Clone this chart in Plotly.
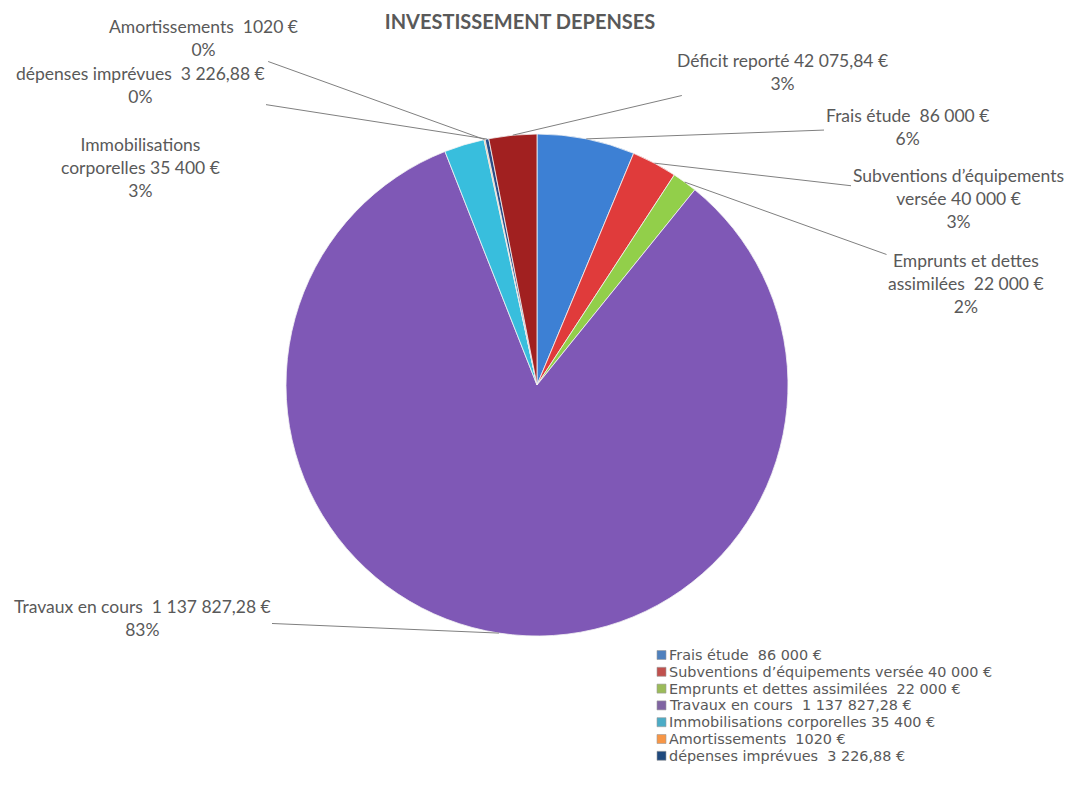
import math
import plotly.graph_objects as go

# ---------------- data ----------------
categories = [
    "Frais étude  86 000 €",
    "Subventions d’équipements\nversée 40 000 €",
    "Emprunts et dettes\nassimilées  22 000 €",
    "Travaux en cours  1 137 827,28 €",
    "Immobilisations\ncorporelles 35 400 €",
    "Amortissements  1020 €",
    "dépenses imprévues  3 226,88 €",
    "Déficit reporté 42 075,84 €",
]
values = [86000, 40000, 22000, 1137827.28, 35400, 1020, 3226.88, 42075.84]
legend_entries = 7  # the reference legend only shows the first seven entries

# ---------------- styles / layout ----------------
colors = ["#3D80D4", "#E03B3B", "#92CF4A", "#7F58B6", "#38BEDD", "#F59A3A", "#2B4C86", "#A12020"]
legend_colors = ["#4F81BD", "#C0504D", "#9BBB59", "#8064A2", "#4BACC6", "#F79646", "#1F497D", "#772C2A"]
# pixel centres of the data-label text blocks
label_pos = [(907, 127), (958, 198), (966, 283), (142, 618), (140, 167), (203, 38), (140, 85), (782, 72)]
label_arrow = [True, True, True, True, False, True, True, True]

W, H = 1069, 801
cx, cy, R = 537, 385, 251
FONT = "Lato"
GREY = "#595959"
LSIZE = 17.5
LEG_X, LEG_Y0, LEG_DY = 657, 655, 16.8

fig = go.Figure()
fig.add_trace(go.Pie(
    labels=[c.replace("\n", " ") for c in categories],
    values=values,
    sort=False,
    direction="clockwise",
    rotation=0,
    textinfo="none",
    marker=dict(colors=colors, line=dict(color="#F4F4F4", width=0.8)),
    domain=dict(x=[(cx - R) / W, (cx + R) / W], y=[(H - cy - R) / H, (H - cy + R) / H]),
    showlegend=False,
    hovertemplate="%{label}<br>%{value:,.2f} €<br>%{percent}<extra></extra>",
))

total = sum(values)
annotations = []
shapes = []
cum = 0.0
for i, (cat, v) in enumerate(zip(categories, values)):
    theta = 2 * math.pi * (cum + v / 2) / total
    cum += v
    pct = round(v / total * 100)
    text = cat.replace("\n", "<br>") + f"<br>{pct}%"
    lx, ly = label_pos[i]
    if label_arrow[i]:
        hx = cx + R * math.sin(theta)
        hy = cy - R * math.cos(theta)
        annotations.append(dict(
            x=hx / W, y=1 - hy / H, xref="paper", yref="paper",
            ax=lx - hx, ay=ly - hy, text=text, showarrow=True,
            arrowhead=0, arrowwidth=1, arrowcolor="#808080", standoff=0,
            font=dict(family=FONT, size=LSIZE, color=GREY), align="center",
        ))
    else:
        annotations.append(dict(
            x=lx / W, y=1 - ly / H, xref="paper", yref="paper",
            xanchor="center", yanchor="middle",
            text=text, showarrow=False,
            font=dict(family=FONT, size=LSIZE, color=GREY), align="center",
        ))

# legend rows (marker square + text)
for i in range(legend_entries):
    name = categories[i].replace("\n", " ")
    yc = LEG_Y0 + i * LEG_DY
    shapes.append(dict(
        type="rect", xref="paper", yref="paper",
        x0=LEG_X / W, x1=(LEG_X + 9) / W, y0=1 - (yc - 4.5) / H, y1=1 - (yc + 4.5) / H,
        fillcolor=legend_colors[i], line=dict(color="#9A9A9A", width=0.6),
    ))
    annotations.append(dict(
        x=(LEG_X + 10) / W, y=1 - yc / H, xref="paper", yref="paper",
        xanchor="left", yanchor="middle", showarrow=False,
        text=name,
        font=dict(family="DejaVu Sans", size=14.4, color=GREY),
    ))

fig.update_layout(
    width=W, height=H,
    margin=dict(l=0, r=0, t=0, b=0),
    paper_bgcolor="white",
    plot_bgcolor="white",
    title=dict(
        text="<b>INVESTISSEMENT DEPENSES</b>",
        x=520 / W, y=1 - 22 / H, xanchor="center", yanchor="middle",
        font=dict(family=FONT, size=20, color=GREY),
    ),
    annotations=annotations,
    shapes=shapes,
)

fig.write_html("out.html", config={"displayModeBar": False},
               post_script="document.body.style.margin='0';")
